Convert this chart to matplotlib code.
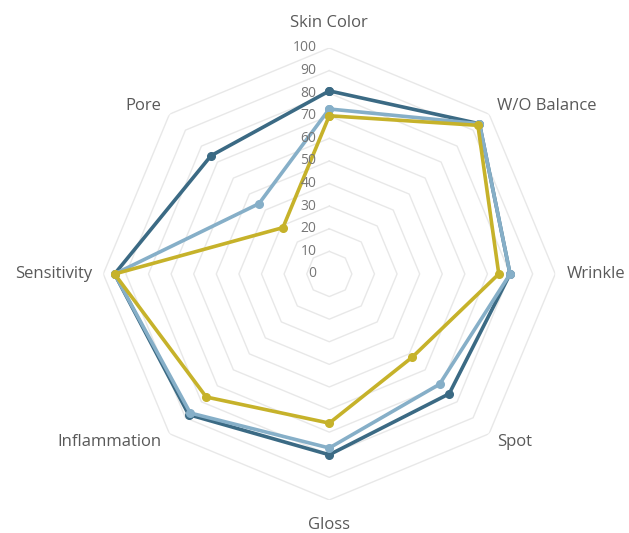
import matplotlib.pyplot as plt
import matplotlib.transforms as mtransforms
import numpy as np

categories = ['Skin Color', 'W/O Balance', 'Wrinkle', 'Spot', 'Gloss',
              'Inflammation', 'Sensitivity', 'Pore']
series_dark = [81, 94, 80, 75, 80, 88, 95, 74]
series_light = [73, 94, 80, 69, 77, 87, 95, 44]
series_yellow = [70, 93, 75, 52, 66, 77, 95, 29]
ticks = [0, 10, 20, 30, 40, 50, 60, 70, 80, 90, 100]

colors = {'dark': '#3b6a84', 'light': '#86afc8', 'yellow': '#c6b22a'}

n = len(categories)
# clockwise from the top
angles = np.pi / 2 - np.arange(n) * 2 * np.pi / n

fig = plt.figure(figsize=(6.29, 5.33), dpi=100)
ax = fig.add_axes([0.164, 0.062, 0.719, 0.848], polar=True)
ax.set_ylim(0, 100)
ax.set_xticks([])
ax.set_yticks([])
ax.grid(False)
ax.spines['polar'].set_visible(False)

# octagonal grid
closed = np.append(angles, angles[0])
for t in ticks[1:]:
    ax.plot(closed, [t] * (n + 1), color='#e8e8e8', lw=1.0, zorder=1)

for vals, key in [(series_dark, 'dark'), (series_light, 'light'), (series_yellow, 'yellow')]:
    v = vals + vals[:1]
    ax.plot(closed, v, color=colors[key], lw=2.6, marker='o', ms=5.5,
            zorder=3, clip_on=False)

# radial tick labels to the left of the top axis
off = mtransforms.offset_copy(ax.transData, fig=fig, x=-13, y=0, units='dots')
for t in ticks:
    ax.text(np.pi / 2, t, str(t), transform=off, ha='right', va='center',
            fontsize=10, color='#767676', family='Open Sans')

aligns = ['center', 'left', 'left', 'left', 'center', 'right', 'right', 'right']
for ang, lab, ha in zip(angles, categories, aligns):
    r = 111 if ha == 'center' else 105
    ax.text(ang, r, lab, ha=ha, va='center', fontsize=12,
            color='#595959', family='Open Sans')

fig.savefig('out.png', dpi=100)
